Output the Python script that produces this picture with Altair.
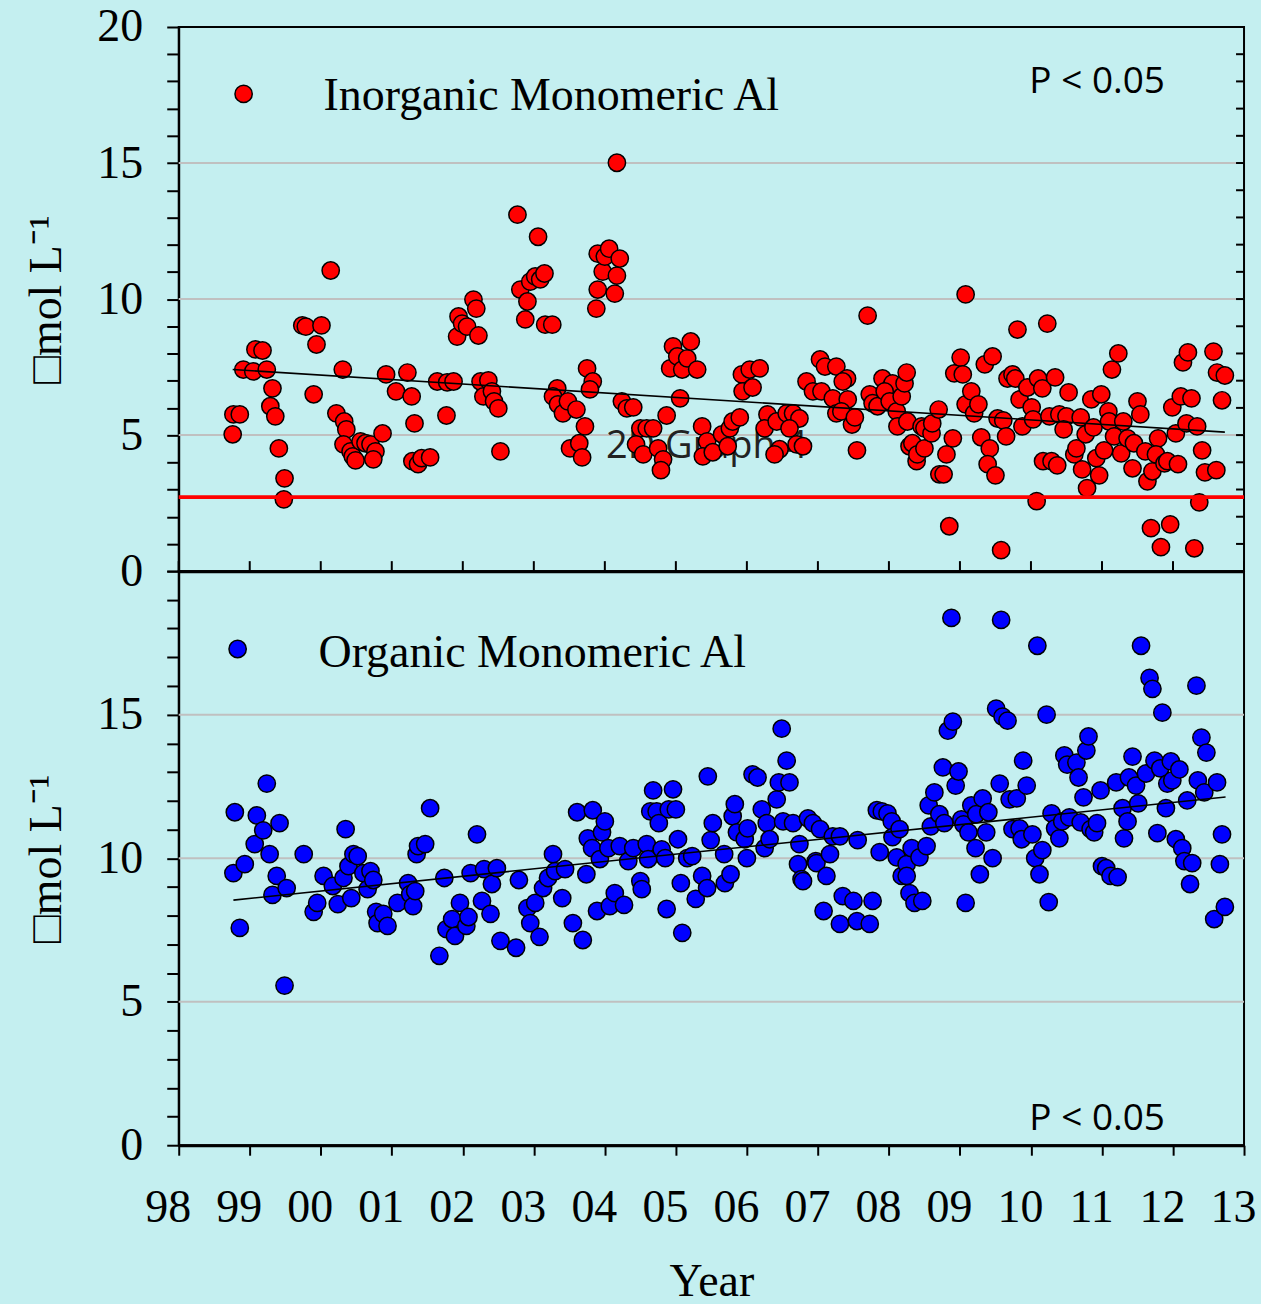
import altair as alt
import pandas as pd

# ---------------- data ----------------
inorg_year = [
    1998.76, 1998.77, 1998.86, 1998.91, 1999.05, 1999.08, 1999.18, 1999.24, 1999.29, 1999.32,
    1999.36, 1999.41, 1999.49, 1999.48, 1999.74, 1999.79, 1999.90, 1999.94, 2000.01, 2000.14,
    2000.22, 2000.31, 2000.33, 2000.36, 2000.32, 2000.42, 2000.45, 2000.49, 2000.56, 2000.63,
    2000.70, 2000.77, 2000.74, 2000.87, 2000.92, 2001.06, 2001.22, 2001.28, 2001.32, 2001.29,
    2001.37, 2001.42, 2001.54, 2001.64, 2001.77, 2001.78, 2001.87, 2001.92, 2001.94, 2001.99,
    2002.06, 2002.15, 2002.19, 2002.22, 2002.25, 2002.29, 2002.36, 2002.41, 2002.44, 2002.50,
    2002.53, 2002.77, 2002.81, 2002.91, 2002.88, 2002.95, 2003.02, 2003.09, 2003.15, 2003.06,
    2003.16, 2003.26, 2003.33, 2003.27, 2003.34, 2003.41, 2003.48, 2003.60, 2003.72, 2003.51,
    2003.64, 2003.68, 2003.75, 2003.83, 2003.79, 2003.88, 2003.90, 2003.90, 2003.97, 2004.00,
    2004.06, 2004.14, 2004.17, 2004.21, 2004.17, 2004.24, 2004.31, 2004.40, 2004.50, 2004.44,
    2004.54, 2004.59, 2004.68, 2004.75, 2004.82, 2004.79, 2004.87, 2004.92, 2004.96, 2005.02,
    2005.09, 2005.16, 2005.21, 2005.30, 2005.06, 2005.37, 2005.44, 2005.38, 2005.52, 2005.65,
    2005.76, 2005.80, 2005.90, 2005.73, 2005.93, 2006.04, 2006.18, 2005.94, 2006.08, 2006.29,
    2006.25, 2006.42, 2006.46, 2006.39, 2006.56, 2006.65, 2006.74, 2006.60, 2006.70, 2006.79,
    2006.84, 2007.03, 2007.10, 2006.93, 2007.05, 2007.21, 2007.26, 2007.26, 2007.41, 2007.35,
    2007.42, 2007.33, 2007.48, 2007.52, 2007.55, 2007.70, 2007.73, 2007.77, 2007.84, 2007.91,
    2008.01, 2008.05, 2007.94, 2008.01, 2008.11, 2008.12, 2008.18, 2008.22, 2008.25, 2008.26,
    2008.29, 2008.33, 2008.39, 2008.40, 2008.46, 2008.50, 2008.50, 2008.60, 2008.61, 2008.70,
    2008.71, 2008.77, 2008.81, 2008.90, 2008.85, 2008.92, 2009.01, 2009.04, 2009.08, 2009.08,
    2009.16, 2009.20, 2009.26, 2009.30, 2009.42, 2009.35, 2009.46, 2009.39, 2009.50, 2009.53,
    2009.61, 2009.65, 2009.58, 2009.67, 2009.74, 2009.78, 2009.81, 2009.84, 2009.88, 2009.95,
    2010.01, 2010.03, 2010.10, 2010.16, 2010.08, 2010.17, 2010.29, 2010.23, 2010.26, 2010.34,
    2010.37, 2010.40, 2010.50, 2010.46, 2010.53, 2010.61, 2010.64, 2010.70, 2010.72, 2010.77,
    2010.79, 2010.85, 2010.88, 2010.92, 2010.96, 2010.99, 2011.03, 2011.09, 2011.10, 2011.14,
    2011.23, 2011.17, 2011.27, 2011.30, 2011.36, 2011.45, 2011.43, 2011.50, 2011.54, 2011.61,
    2011.64, 2011.71, 2011.69, 2011.79, 2011.76, 2011.83, 2011.88, 2011.92, 2011.96, 2011.99,
    2012.04, 2012.07, 2012.11, 2012.14, 2012.21, 2012.19, 2012.26, 2012.30, 2012.34, 2012.37,
    2012.41, 2012.45, 2012.61, 2012.57, 2012.62, 2012.73, 2012.69,
]
inorg_value = [
    5.03, 5.76, 5.76, 7.41, 7.34, 8.15, 8.11, 7.41, 6.06, 6.72,
    5.69, 4.51, 3.41, 2.64, 9.03, 8.99, 6.50, 8.33, 9.03, 11.05,
    5.80, 7.41, 5.50, 5.21, 4.66, 4.40, 4.22, 4.07, 4.77, 4.70,
    4.66, 4.40, 4.11, 5.06, 7.23, 6.61, 7.30, 6.42, 5.43, 4.04,
    3.93, 4.15, 4.18, 6.97, 5.72, 6.94, 6.97, 8.62, 9.36, 9.10,
    8.99, 9.98, 9.65, 8.66, 6.97, 6.42, 7.01, 6.61, 6.24, 5.98,
    4.40, 13.10, 10.35, 9.91, 9.25, 10.64, 10.83, 10.72, 10.94, 12.29,
    9.06, 9.06, 6.72, 6.42, 6.13, 5.80, 6.24, 5.94, 5.32, 4.51,
    4.70, 4.18, 7.45, 6.97, 6.68, 9.65, 10.35, 11.67, 11.01, 11.56,
    11.85, 10.20, 10.86, 11.49, 15.01, 6.24, 5.98, 6.02, 5.25, 4.66,
    4.29, 5.25, 5.25, 4.51, 4.11, 3.71, 5.72, 7.45, 8.26, 7.89,
    7.41, 7.82, 8.44, 7.41, 6.35, 5.32, 4.77, 4.22, 4.37, 5.03,
    5.25, 5.50, 5.65, 4.59, 7.23, 7.41, 7.45, 6.61, 6.75, 5.76,
    5.25, 5.50, 4.48, 4.29, 5.80, 5.80, 5.61, 5.25, 4.66, 4.59,
    6.97, 7.78, 7.52, 6.61, 6.61, 6.35, 7.52, 5.80, 7.08, 6.97,
    6.31, 5.87, 5.39, 5.65, 4.44, 9.39, 6.50, 6.17, 6.06, 7.08,
    6.72, 6.90, 6.61, 6.24, 5.87, 5.32, 6.42, 6.90, 7.30, 5.50,
    4.59, 4.70, 4.04, 4.29, 5.32, 5.25, 4.51, 5.06, 5.43, 5.94,
    3.56, 3.56, 4.29, 4.88, 1.65, 7.27, 7.85, 7.23, 10.17, 6.13,
    6.61, 5.80, 6.13, 4.92, 4.51, 7.60, 7.89, 3.93, 3.52, 5.61,
    5.54, 4.95, 0.77, 7.08, 7.23, 7.08, 8.88, 6.31, 5.32, 6.75,
    6.02, 5.58, 7.08, 6.72, 2.57, 4.04, 4.04, 9.10, 5.69, 7.12,
    3.89, 5.76, 5.69, 5.21, 6.57, 4.29, 4.51, 5.65, 3.74, 5.03,
    3.05, 6.31, 5.28, 4.15, 3.52, 6.50, 4.44, 5.87, 5.50, 7.41,
    8.00, 4.95, 4.33, 5.50, 4.88, 4.70, 3.78, 6.24, 5.76, 4.40,
    3.30, 3.67, 1.58, 4.88, 4.29, 0.88, 3.96, 4.04, 1.72, 6.02,
    5.06, 3.93, 6.42, 7.67, 8.04, 5.43, 6.35, 0.84, 5.32, 2.53,
    4.44, 3.63, 3.71, 8.07, 7.30, 7.19, 6.28,
]

org_year = [
    1998.77, 1998.79, 1998.86, 1998.93, 1999.07, 1999.10, 1999.19, 1999.24, 1999.28, 1999.32,
    1999.38, 1999.42, 1999.49, 1999.52, 1999.76, 1999.90, 1999.95, 2000.04, 2000.17, 2000.24,
    2000.32, 2000.35, 2000.39, 2000.43, 2000.46, 2000.52, 2000.60, 2000.66, 2000.70, 2000.74,
    2000.78, 2000.80, 2000.88, 2000.94, 2001.08, 2001.23, 2001.26, 2001.30, 2001.33, 2001.35,
    2001.37, 2001.47, 2001.54, 2001.67, 2001.74, 2001.77, 2001.85, 2001.89, 2001.96, 2002.05,
    2002.08, 2002.11, 2002.20, 2002.27, 2002.30, 2002.39, 2002.41, 2002.48, 2002.53, 2002.75,
    2002.79, 2002.91, 2002.95, 2003.02, 2003.08, 2003.13, 2003.20, 2003.27, 2003.30, 2003.40,
    2003.44, 2003.55, 2003.61, 2003.69, 2003.74, 2003.76, 2003.82, 2003.83, 2003.89, 2003.93,
    2003.96, 2004.00, 2004.05, 2004.07, 2004.14, 2004.21, 2004.27, 2004.33, 2004.40, 2004.50,
    2004.52, 2004.59, 2004.61, 2004.64, 2004.68, 2004.73, 2004.76, 2004.80, 2004.85, 2004.87,
    2004.90, 2004.96, 2005.00, 2005.03, 2005.07, 2005.09, 2005.16, 2005.23, 2005.28, 2005.37,
    2005.44, 2005.45, 2005.49, 2005.52, 2005.68, 2005.69, 2005.77, 2005.80, 2005.83, 2005.86,
    2005.97, 2006.00, 2006.01, 2006.08, 2006.15, 2006.21, 2006.25, 2006.28, 2006.32, 2006.42,
    2006.45, 2006.49, 2006.51, 2006.56, 2006.60, 2006.65, 2006.72, 2006.74, 2006.77, 2006.79,
    2006.86, 2006.93, 2006.97, 2006.98, 2007.03, 2007.08, 2007.12, 2007.17, 2007.21, 2007.31,
    2007.31, 2007.35, 2007.50, 2007.55, 2007.56, 2007.73, 2007.77, 2007.83, 2007.87, 2007.90,
    2007.98, 2008.04, 2008.05, 2008.11, 2008.15, 2008.18, 2008.25, 2008.25, 2008.29, 2008.32,
    2008.36, 2008.43, 2008.47, 2008.53, 2008.56, 2008.59, 2008.64, 2008.71, 2008.76, 2008.78,
    2008.83, 2008.88, 2008.90, 2008.94, 2008.98, 2009.02, 2009.05, 2009.08, 2009.12, 2009.16,
    2009.22, 2009.23, 2009.28, 2009.32, 2009.37, 2009.40, 2009.46, 2009.51, 2009.56, 2009.58,
    2009.60, 2009.67, 2009.70, 2009.74, 2009.80, 2009.84, 2009.87, 2009.89, 2009.94, 2010.02,
    2010.06, 2010.09, 2010.12, 2010.16, 2010.22, 2010.25, 2010.29, 2010.34, 2010.40, 2010.44,
    2010.47, 2010.51, 2010.54, 2010.64, 2010.67, 2010.70, 2010.74, 2010.78, 2010.81, 2010.84,
    2010.89, 2010.93, 2010.98, 2011.00, 2011.06, 2011.12, 2011.22, 2011.20, 2011.29, 2011.31,
    2011.36, 2011.38, 2011.43, 2011.48, 2011.51, 2011.55, 2011.62, 2011.67, 2011.71, 2011.74,
    2011.78, 2011.82, 2011.85, 2011.90, 2011.92, 2011.97, 2011.99, 2012.04, 2012.09, 2012.13,
    2012.16, 2012.20, 2012.24, 2012.27, 2012.33, 2012.35, 2012.40, 2012.44, 2012.47, 2012.58,
    2012.62, 2012.66, 2012.69, 2012.73,
]
org_value = [
    9.48, 11.60, 7.57, 9.79, 10.49, 11.49, 10.97, 12.60, 10.14, 8.72,
    9.38, 11.22, 5.56, 8.96, 10.14, 8.13, 8.44, 9.38, 9.03, 8.40,
    9.31, 11.01, 9.72, 8.61, 10.14, 10.07, 9.48, 8.92, 9.55, 9.24,
    8.13, 7.74, 8.06, 7.64, 8.44, 9.13, 8.75, 8.33, 8.85, 10.14,
    10.42, 10.49, 11.74, 6.60, 9.31, 7.53, 7.88, 7.29, 8.44, 7.64,
    7.95, 9.48, 10.83, 8.51, 9.62, 8.06, 9.10, 9.65, 7.12, 6.88,
    9.24, 8.26, 7.74, 8.44, 7.26, 8.96, 9.31, 10.14, 9.55, 8.61,
    9.62, 7.74, 11.60, 7.15, 9.44, 10.69, 10.35, 11.67, 8.16, 9.97,
    10.90, 11.28, 10.35, 8.33, 8.78, 10.42, 8.37, 9.90, 10.35, 9.20,
    8.92, 10.49, 9.97, 11.63, 12.36, 11.63, 11.22, 10.31, 10.00, 8.23,
    11.70, 12.40, 11.70, 10.66, 9.13, 7.40, 10.00, 10.07, 8.58, 9.38,
    8.96, 12.85, 10.63, 11.22, 10.14, 9.13, 9.44, 11.46, 11.88, 10.90,
    10.66, 10.00, 11.04, 12.92, 12.81, 11.70, 10.35, 11.22, 10.66, 12.05,
    12.64, 14.51, 11.28, 13.40, 12.64, 11.22, 9.79, 10.49, 9.27, 9.20,
    11.39, 11.22, 9.90, 9.83, 11.01, 8.16, 9.38, 10.14, 10.76, 10.76,
    7.71, 8.68, 8.51, 7.81, 10.63, 7.71, 8.51, 11.67, 10.21, 11.63,
    11.56, 11.28, 10.73, 10.03, 11.01, 9.38, 9.79, 9.38, 8.78, 10.35,
    8.44, 10.03, 8.51, 10.42, 11.84, 11.11, 12.29, 11.53, 13.16, 11.22,
    14.44, 18.37, 14.76, 12.53, 13.02, 11.35, 11.18, 8.44, 10.90, 11.84,
    10.35, 11.53, 9.44, 12.08, 10.90, 11.60, 10.00, 15.21, 12.60, 18.30,
    14.93, 14.79, 12.05, 11.01, 12.08, 11.04, 10.66, 13.40, 12.53, 10.83,
    10.00, 17.40, 9.44, 10.28, 15.00, 8.47, 11.56, 11.04, 10.69, 11.28,
    13.58, 13.26, 11.42, 13.33, 12.81, 11.25, 12.12, 13.75, 14.24, 11.01,
    10.90, 11.22, 12.36, 9.72, 9.65, 9.38, 9.34, 12.64, 11.74, 10.69,
    11.28, 12.81, 13.54, 12.53, 11.91, 17.40, 12.95, 16.28, 15.90, 13.40,
    10.87, 13.13, 15.07, 11.74, 12.60, 13.37, 12.71, 10.66, 13.09, 10.35,
    9.90, 12.01, 9.10, 9.83, 16.01, 12.71, 14.20, 12.29, 13.68, 7.88,
    12.64, 9.79, 10.83, 8.30,
]

inorg_trend_year = [1998.76, 2012.73]
inorg_trend_value = [7.41, 5.11]
org_trend_year = [1998.77, 2012.74]
org_trend_value = [8.54, 12.13]
threshold_value = 2.72

year_ticks = list(range(1998, 2014))
y_ticks = list(range(0, 21))
inner_y_ticks = list(range(1, 20))
grid_values = [5, 10, 15]

# ---------------- style ----------------
BG = "#c4eff0"
SERIF = "Liberation Serif"
SANS = "Open Sans"
W = 1067
H_TOP = 545
H_BOT = 575
PT_SIZE = 300

df_in = pd.DataFrame({"year": inorg_year[:len(inorg_value)], "value": inorg_value[:len(inorg_year)]})
df_org = pd.DataFrame({"year": org_year[:len(org_value)], "value": org_value[:len(org_year)]})
df_in_trend = pd.DataFrame({"year": inorg_trend_year, "value": inorg_trend_value})
df_org_trend = pd.DataFrame({"year": org_trend_year, "value": org_trend_value})
df_grid = pd.DataFrame({"value": grid_values})
df_years = pd.DataFrame({"year": year_ticks})
df_inner = pd.DataFrame({"value": inner_y_ticks})
df_thr = pd.DataFrame({"value": [threshold_value]})

xscale = alt.Scale(domain=[1998, 2013], nice=False, zero=False)
yscale = alt.Scale(domain=[0, 20], nice=False, zero=False)

common_y = dict(
    values=y_ticks, tickSize=12, tickWidth=2, tickColor="black",
    domainWidth=2, domainColor="black", labelFont=SERIF, labelFontSize=46,
    labelColor="black", labelPadding=24, labelOverlap=False, grid=False,
    title="\u25a1mol L\u207b\u00b9", titleFont=SERIF, titleFontSize=46,
    titleFontWeight="normal", titleColor="black", titlePadding=26,
)
y_axis_top = alt.Axis(labelExpr="datum.value % 5 == 0 ? datum.label : ''", **common_y)
y_axis_bot = alt.Axis(labelExpr="datum.value % 5 == 0 && datum.value < 20 ? datum.label : ''", **common_y)

x_axis_top = alt.Axis(values=year_ticks, labels=False, ticks=False, title=None,
                      domainWidth=3, domainColor="black", grid=False)
x_axis_bot = alt.Axis(values=year_ticks, labelExpr="substring(toString(datum.value), 2, 4)",
                      tickSize=10, tickWidth=2, tickColor="black", domainWidth=3,
                      domainColor="black", labelFont=SERIF, labelFontSize=46,
                      labelColor="black", labelPadding=30, labelOffset=-11,
                      labelFlush=False, labelOverlap=False, grid=False,
                      title="Year", titleFont=SERIF, titleFontSize=46,
                      titleFontWeight="normal", titleColor="black", titlePadding=30)


def panel(df, trend, color, xaxis, yaxis, height, legend_text, legend_pos, ptext_y,
          extra_text=None, inner_ticks=False, bottom_ticks=False, threshold=False):
    X = lambda: alt.X("year:Q", scale=xscale, axis=xaxis)
    Y = lambda: alt.Y("value:Q", scale=yscale, axis=yaxis)
    layers = []
    layers.append(alt.Chart(df).mark_circle(size=PT_SIZE, opacity=0).encode(x=X(), y=Y()))
    layers.append(alt.Chart(df_grid).mark_rule(color="#c0c0c0", strokeWidth=2).encode(y=Y()))
    if extra_text:
        layers.append(alt.Chart(pd.DataFrame({"t": [extra_text[0]]})).mark_text(
            font=SANS, fontSize=38, color="#222222", align="left", baseline="alphabetic"
        ).encode(text="t:N", x=alt.value(extra_text[1]), y=alt.value(extra_text[2])))
    layers.append(alt.Chart(df).mark_circle(size=PT_SIZE, color=color, stroke="black",
                                            strokeWidth=1.5, opacity=1).encode(x=X(), y=Y()))
    layers.append(alt.Chart(trend).mark_line(color="black", strokeWidth=1.6).encode(x=X(), y=Y()))
    if threshold:
        layers.append(alt.Chart(df_thr).mark_rule(color="#ff0000", strokeWidth=4).encode(y=Y()))
    if inner_ticks:
        layers.append(alt.Chart(df_inner).mark_rule(color="black", strokeWidth=2).encode(
            y=Y(), x=alt.value(W - 8), x2=alt.value(W)))
    if bottom_ticks:
        layers.append(alt.Chart(df_years).mark_rule(color="black", strokeWidth=2).encode(
            x=X(), y=alt.value(height - 10), y2=alt.value(height)))
    # legend
    lx, ly, tx, ty = legend_pos
    layers.append(alt.Chart(pd.DataFrame({"t": [legend_text]})).mark_circle(
        size=PT_SIZE, color=color, stroke="black", strokeWidth=1.5, opacity=1
    ).encode(x=alt.value(lx), y=alt.value(ly)))
    layers.append(alt.Chart(pd.DataFrame({"t": [legend_text]})).mark_text(
        font=SERIF, fontSize=46, color="black", align="left", baseline="alphabetic"
    ).encode(text="t:N", x=alt.value(tx), y=alt.value(ty)))
    layers.append(alt.Chart(pd.DataFrame({"t": ["P < 0.05"]})).mark_text(
        font=SANS, fontSize=37, color="black", align="left", baseline="alphabetic"
    ).encode(text="t:N", x=alt.value(852), y=alt.value(ptext_y)))
    return alt.layer(*layers).properties(width=W, height=height)


top = panel(df_in, df_in_trend, "#ff0000", x_axis_top, y_axis_top, H_TOP,
            "Inorganic Monomeric Al", (65, 67, 145, 83), 66,
            extra_text=("2D Graph 4", 428, 432), inner_ticks=True, bottom_ticks=True,
            threshold=True)
bottom = panel(df_org, df_org_trend, "#0000ff", x_axis_bot, y_axis_bot, H_BOT,
               "Organic Monomeric Al", (59, 78, 140, 96), 560)

chart = alt.VConcatChart(vconcat=[top, bottom], spacing=0, bounds="flush").configure(
    background=BG, padding={"left": 23, "top": 2, "right": 4, "bottom": 0}
).configure_view(stroke="black", strokeWidth=2)

chart.save("out.html", embed_options={"renderer": "svg", "actions": False})
